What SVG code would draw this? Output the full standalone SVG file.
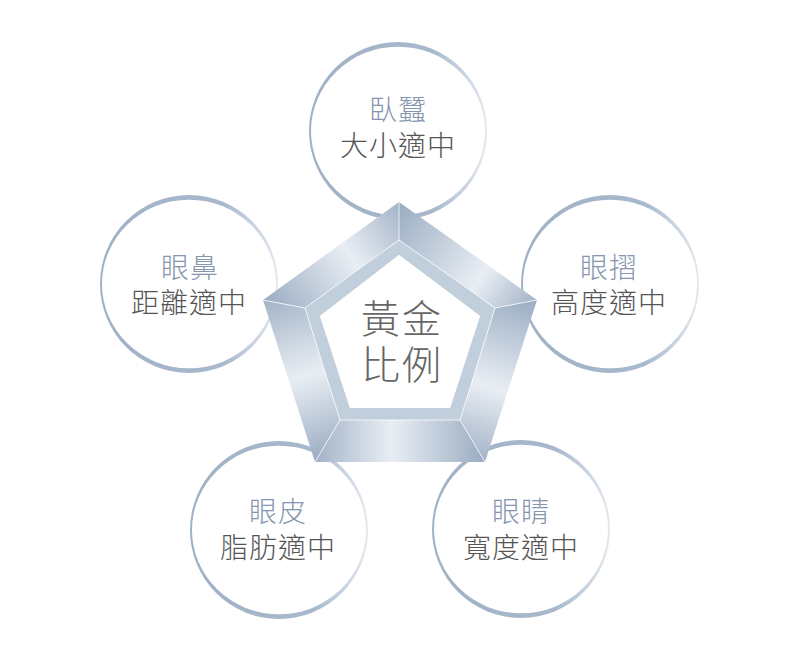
<svg xmlns="http://www.w3.org/2000/svg" xmlns:xlink="http://www.w3.org/1999/xlink" width="800" height="662" viewBox="0 0 800 662">
<defs>
<style>
.lbl{font-family:"Noto Sans CJK TC","Noto Sans CJK SC",sans-serif;font-size:28px;font-weight:300;text-anchor:middle;letter-spacing:1px}
.t1{fill:#8596ae}
.t2{fill:#555555}
.tc{font-family:"Noto Sans CJK TC","Noto Sans CJK SC",sans-serif;font-size:39px;font-weight:300;fill:#666666;text-anchor:middle;letter-spacing:2px}
.edge{stroke:#ffffff;stroke-opacity:0.75;stroke-width:1;fill:none}
</style>
<linearGradient id="ringGrad" x1="0" y1="0" x2="1" y2="0">
<stop offset="0" stop-color="#a0b1c6"/>
<stop offset="0.7" stop-color="#a9b9cc"/>
<stop offset="1" stop-color="#e3e9f0"/>
</linearGradient>
<g id="ring">
<circle r="89" fill="url(#ringGrad)"/>
<ellipse rx="87" ry="84.3" fill="#ffffff"/>
</g>
<linearGradient id="gTL" gradientUnits="userSpaceOnUse" x1="263" y1="300" x2="399" y2="202">
<stop offset="0" stop-color="#9aacc2"/><stop offset="0.58" stop-color="#e9eef4"/><stop offset="1" stop-color="#a3b3c7"/>
</linearGradient>
<linearGradient id="gTR" gradientUnits="userSpaceOnUse" x1="399" y1="202" x2="537" y2="300">
<stop offset="0" stop-color="#9aacc2"/><stop offset="0.65" stop-color="#e9eef4"/><stop offset="1" stop-color="#a3b3c7"/>
</linearGradient>
<linearGradient id="gR" gradientUnits="userSpaceOnUse" x1="537" y1="300" x2="485" y2="462">
<stop offset="0" stop-color="#9aacc2"/><stop offset="0.57" stop-color="#e9eef4"/><stop offset="1" stop-color="#a3b3c7"/>
</linearGradient>
<linearGradient id="gB" gradientUnits="userSpaceOnUse" x1="485" y1="462" x2="315" y2="462">
<stop offset="0" stop-color="#9aacc2"/><stop offset="0.55" stop-color="#e9eef4"/><stop offset="1" stop-color="#a3b3c7"/>
</linearGradient>
<linearGradient id="gL" gradientUnits="userSpaceOnUse" x1="315" y1="462" x2="263" y2="300">
<stop offset="0" stop-color="#9aacc2"/><stop offset="0.5" stop-color="#e9eef4"/><stop offset="1" stop-color="#a3b3c7"/>
</linearGradient>
</defs>
<rect width="800" height="662" fill="#ffffff"/>
<g id="connectors"/>
<g id="node-top">
<use xlink:href="#ring" href="#ring" x="398" y="131"/>
<text class="lbl"><tspan class="t1" x="398" y="120">臥蠶</tspan><tspan class="t2" x="398" y="156">大小適中</tspan></text>
</g>
<g id="node-left">
<use xlink:href="#ring" href="#ring" x="189" y="284"/>
<text class="lbl"><tspan class="t1" x="190" y="278">眼鼻</tspan><tspan class="t2" x="189" y="313">距離適中</tspan></text>
</g>
<g id="node-right">
<use xlink:href="#ring" href="#ring" x="610" y="284"/>
<text class="lbl"><tspan class="t1" x="609" y="278">眼摺</tspan><tspan class="t2" x="609" y="313">高度適中</tspan></text>
</g>
<g id="node-bottom-left">
<use xlink:href="#ring" href="#ring" x="279" y="530"/>
<text class="lbl"><tspan class="t1" x="278" y="522">眼皮</tspan><tspan class="t2" x="278" y="558">脂肪適中</tspan></text>
</g>
<g id="node-bottom-right">
<use xlink:href="#ring" href="#ring" x="521" y="529"/>
<text class="lbl"><tspan class="t1" x="521" y="522">眼睛</tspan><tspan class="t2" x="521" y="558">寬度適中</tspan></text>
</g>
<g id="node-center">
<polygon points="263,300 399,202 399,240 305,308" fill="url(#gTL)"/>
<polygon points="399,202 537,300 495,308 399,240" fill="url(#gTR)"/>
<polygon points="537,300 485,462 460,420 495,308" fill="url(#gR)"/>
<polygon points="485,462 315,462 340,420 460,420" fill="url(#gB)"/>
<polygon points="315,462 263,300 305,308 340,420" fill="url(#gL)"/>
<path d="M399,240 L495,308 L460,420 L340,420 L305,308 Z M399,255 L480,316 L450,408 L350,408 L320,316 Z" fill="#c1cedc" fill-rule="evenodd"/>
<path class="edge" d="M399,240 L495,308 L460,420 L340,420 L305,308 Z M263,300 L305,308 M399,202 L399,240 M537,300 L495,308 M485,462 L460,420 M315,462 L340,420"/>
<polygon points="399,255 480,316 450,408 350,408 320,316" fill="#ffffff"/>
<text class="tc"><tspan x="402" y="333">黃金</tspan><tspan x="402" y="379">比例</tspan></text>
</g>
</svg>
